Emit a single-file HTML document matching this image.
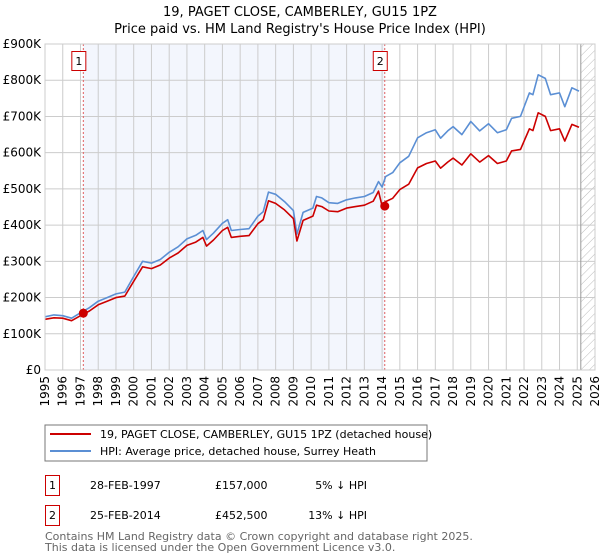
<!DOCTYPE html>
<html><head><meta charset="utf-8">
<style>
body{margin:0;background:#fff;font-family:"DejaVu Sans","Liberation Sans",sans-serif;}
#wrap{position:relative;width:600px;height:560px;overflow:hidden;}
svg text{font-family:"DejaVu Sans","Liberation Sans",sans-serif;}
</style></head><body>
<div id="wrap">
<svg id="svg" width="600" height="560" xmlns="http://www.w3.org/2000/svg">
<defs>
<pattern id="hatch" patternUnits="userSpaceOnUse" width="6" height="6" patternTransform="rotate(45)">
<line x1="0" y1="0" x2="0" y2="6" stroke="#bbb" stroke-width="1"/>
</pattern>
</defs>
<text x="300" y="16" text-anchor="middle" font-size="13">19, PAGET CLOSE, CAMBERLEY, GU15 1PZ</text>
<text x="300" y="33" text-anchor="middle" font-size="13">Price paid vs. HM Land Registry's House Price Index (HPI)</text>
<g id="plot"></g>
<rect x="45" y="425" width="382" height="36" fill="#fff" stroke="#777"/>
<line x1="50" y1="434" x2="91" y2="434" stroke="#cc0000" stroke-width="2"/>
<text x="100" y="438" font-size="11">19, PAGET CLOSE, CAMBERLEY, GU15 1PZ (detached house)</text>
<line x1="50" y1="451" x2="91" y2="451" stroke="#5b8fd4" stroke-width="2"/>
<text x="100" y="455" font-size="11">HPI: Average price, detached house, Surrey Heath</text>
<g>
<rect x="45.5" y="475.5" width="14" height="20" fill="#fff" stroke="#cc0000"/>
<text x="52.5" y="489" font-size="11" text-anchor="middle">1</text>
<text x="90" y="489" font-size="11">28-FEB-1997</text>
<text x="215" y="489" font-size="11">£157,000</text>
<text x="367" y="489" font-size="11" text-anchor="end">5% ↓ HPI</text>
</g>
<g>
<rect x="45.5" y="505.5" width="14" height="20" fill="#fff" stroke="#cc0000"/>
<text x="52.5" y="519" font-size="11" text-anchor="middle">2</text>
<text x="90" y="519" font-size="11">25-FEB-2014</text>
<text x="215" y="519" font-size="11">£452,500</text>
<text x="367" y="519" font-size="11" text-anchor="end">13% ↓ HPI</text>
</g>
<text x="45" y="540" font-size="11" fill="#666">Contains HM Land Registry data © Crown copyright and database right 2025.</text>
<text x="45" y="551" font-size="11" fill="#666">This data is licensed under the Open Government Licence v3.0.</text>
</svg>
</div>
<script>
const hpiYears=[1995,1995.5,1996,1996.5,1997,1997.5,1998,1998.5,1999,1999.5,2000,2000.5,2001,2001.5,2002,2002.5,2003,2003.5,2003.9,2004.1,2004.5,2005,2005.3,2005.5,2006,2006.5,2007,2007.3,2007.6,2008,2008.5,2009,2009.2,2009.55,2010.1,2010.3,2010.6,2011,2011.5,2012,2012.5,2013,2013.5,2013.8,2014,2014.2,2014.6,2015,2015.5,2016,2016.5,2017,2017.3,2017.7,2018,2018.5,2019,2019.5,2020,2020.5,2021,2021.3,2021.8,2022.3,2022.5,2022.8,2023.2,2023.5,2024,2024.3,2024.7,2025.1];
const hpiValues=[147000,152000,150000,143000,158000,172000,190000,200000,210000,215000,258000,300000,295000,305000,325000,340000,362000,372000,385000,360000,378000,405000,415000,385000,388000,390000,425000,437000,491000,485000,465000,440000,375000,435000,447000,479000,475000,462000,460000,470000,475000,479000,490000,520000,505000,534000,545000,572000,590000,641000,655000,663000,640000,660000,672000,650000,686000,660000,680000,655000,663000,695000,700000,765000,760000,815000,805000,760000,765000,727000,779000,770000];
const priceValues=[140000,144000,143000,136000,150000,163000,180000,190000,200000,204000,245000,285000,280000,290000,309000,323000,344000,353000,366000,342000,359000,385000,394000,366000,369000,371000,404000,415000,467000,460000,442000,418000,356000,413000,425000,455000,451000,439000,437000,447000,451000,455000,466000,494000,452500,465000,474000,498000,513000,558000,570000,577000,557000,574000,585000,566000,597000,574000,592000,570000,577000,605000,609000,666000,661000,710000,700000,661000,666000,632000,678000,670000];
const sales=[{label:"1",year:1997.16,price:157000},{label:"2",year:2014.15,price:452500}];
const yTicks=[0,100000,200000,300000,400000,500000,600000,700000,800000,900000];
const yTickLabels=["£0","£100K","£200K","£300K","£400K","£500K","£600K","£700K","£800K","£900K"];
const xTicks=[1995,1996,1997,1998,1999,2000,2001,2002,2003,2004,2005,2006,2007,2008,2009,2010,2011,2012,2013,2014,2015,2016,2017,2018,2019,2020,2021,2022,2023,2024,2025,2026];
const dataEnd=2025.2;

const L=45,R=595,T=44,B=370,X0=1995,X1=2026,YMAX=900000;
const xs=y=>L+(y-X0)/(X1-X0)*(R-L);
const ys=v=>B-v/YMAX*(B-T);
const NS="http://www.w3.org/2000/svg";
const g=document.getElementById('plot');
function mk(tag,attrs,parent){const e=document.createElementNS(NS,tag);for(const k in attrs)e.setAttribute(k,attrs[k]);(parent||g).appendChild(e);return e;}

let e=mk('rect',{x:L,y:T,width:R-L,height:B-T,fill:'#fff'});


e=mk('rect',{x:xs(sales[0].year),y:T,width:xs(sales[1].year)-xs(sales[0].year),height:B-T,fill:'#f3f6fd'});


e=mk('rect',{x:xs(dataEnd),y:T,width:R-xs(dataEnd),height:B-T,fill:'url(#hatch)'});


xTicks.forEach(t=>{
  let l=mk('line',{x1:xs(t),x2:xs(t),y1:T,y2:B,stroke:'#ccc','stroke-width':1});
  
  
  let tx=mk('text',{x:0,y:0,'font-size':12,'text-anchor':'end',transform:`translate(${xs(t)+4},${B+6}) rotate(-90)`});
  tx.textContent=t;
  
  
});
yTicks.forEach((t,i)=>{
  let l=mk('line',{x1:L,x2:R,y1:ys(t),y2:ys(t),stroke:'#ccc','stroke-width':1});
  
  
  let tx=mk('text',{x:41,y:ys(t)+4,'font-size':12,'text-anchor':'end'});
  tx.textContent=yTickLabels[i];
  
  
});
e=mk('line',{x1:xs(dataEnd),x2:xs(dataEnd),y1:T,y2:B,stroke:'#999','stroke-width':1});


sales.forEach(s=>{
  let l=mk('line',{x1:xs(s.year),x2:xs(s.year),y1:T,y2:B,stroke:'#e06060','stroke-width':1,'stroke-dasharray':'2,2'});
  
  
});
function path(vals,color,name){
  const d=vals.map((v,i)=>(i?'L':'M')+xs(hpiYears[i]).toFixed(1)+','+ys(v).toFixed(1)).join('');
  const p=mk('path',{d:d,fill:'none',stroke:color,'stroke-width':1.6,'stroke-linejoin':'round'});
  
  
}
path(hpiValues,'#5b8fd4','hpi-line');
path(priceValues,'#cc0000','price-paid-line');
sales.forEach(s=>{
  let c=mk('circle',{cx:xs(s.year),cy:ys(s.price),r:4.5,fill:'#cc0000'});
  
  
  let bx=xs(s.year)-12;
  let r=mk('rect',{x:bx+0.5,y:51.5,width:14,height:19,fill:'#fff',stroke:'#cc0000'});
  
  
  let t=mk('text',{x:bx+7.5,y:65,'font-size':11,'text-anchor':'middle'});
  t.textContent=s.label;
  
  
});
e=mk('rect',{x:L,y:T,width:R-L,height:B-T,fill:'none',stroke:'#ccc'});


</script>
</body></html>
